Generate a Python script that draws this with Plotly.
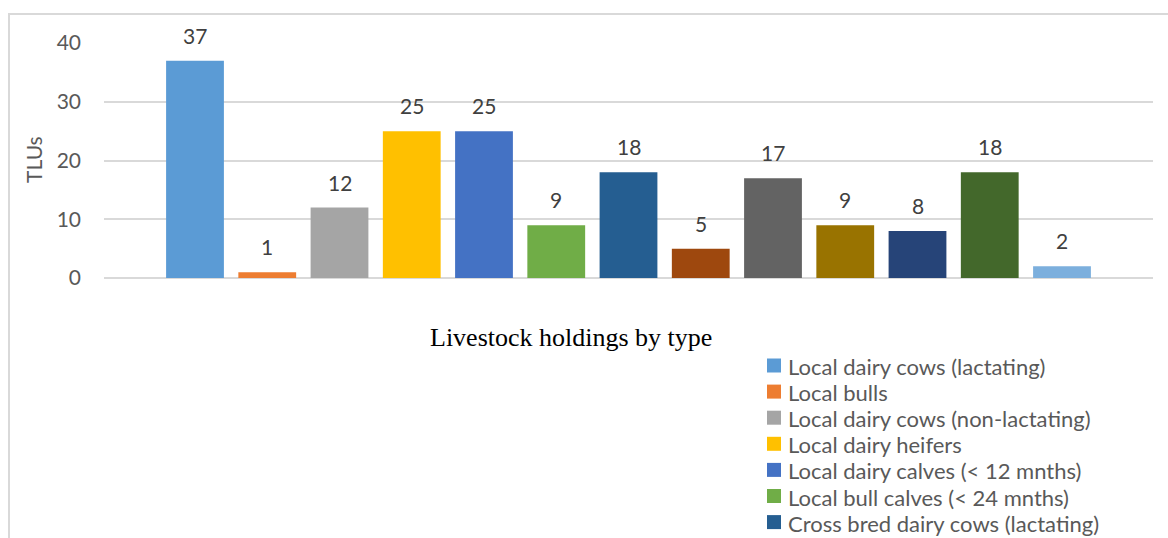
import plotly.graph_objects as go

series_names = [
    "Local dairy cows (lactating)",
    "Local bulls",
    "Local dairy cows (non-lactating)",
    "Local dairy heifers",
    "Local dairy calves (< 12 mnths)",
    "Local bull calves (< 24 mnths)",
    "Cross bred dairy cows (lactating)",
    "Cross bred bulls",
    "Cross bred dairy cows (non-lactating)",
    "Cross bred dairy heifers",
    "Cross bred dairy calves (< 12 mnths)",
    "Cross bred bull calves (< 24 mnths)",
    "Oxen",
]
values = [37, 1, 12, 25, 25, 9, 18, 5, 17, 9, 8, 18, 2]
colors = ["#5B9BD5", "#ED7D31", "#A5A5A5", "#FFC000", "#4472C4", "#70AD47",
          "#255E91", "#9E480E", "#636363", "#997300", "#264478", "#43682B", "#7CAFDD"]
y_ticks = [0, 10, 20, 30, 40]
x_title = "Livestock holdings by type"
y_title = "TLUs"
legend_visible = 7  # entries visible before the legend is cut off by the chart edge

W, H = 1168, 538
L, R, T, B = 104, 15, 43, 260
pw, ph = W - L - R, H - T - B


def px_x(px):
    return (px - L) / pw


def px_y(py):
    return (H - B - py) / ph


FONT = "Lato, 'Open Sans', sans-serif"

fig = go.Figure()
for i, (name, v, c) in enumerate(zip(series_names, values, colors)):
    fig.add_trace(go.Bar(
        x=[name], y=[v], name=name, marker=dict(color=c, line=dict(width=0)),
        showlegend=False,
    ))
    fig.add_annotation(
        x=name, y=v, xref="x", yref="y", text=str(v), showarrow=False,
        yanchor="bottom", yshift=11, font=dict(family=FONT, size=21, color="#404040"),
    )

n = len(series_names)
unit = 72.25
span = pw / unit
pad = (span - n) / 2

shapes = [
    dict(type="line", xref="paper", yref="paper",
         x0=px_x(8), x1=px_x(W + 10), y0=px_y(14), y1=px_y(14),
         line=dict(color="#D9D9D9", width=2)),
    dict(type="line", xref="paper", yref="paper",
         x0=px_x(9), x1=px_x(9), y0=px_y(14), y1=px_y(H + 10),
         line=dict(color="#D9D9D9", width=2)),
]

# legend (drawn manually so the row spacing matches the reference)
row0, row_gap = 365.5, 26.1
for i in range(legend_visible):
    cy = row0 + i * row_gap
    shapes.append(dict(
        type="rect", xref="paper", yref="paper",
        x0=px_x(767), x1=px_x(781), y0=px_y(cy + 7), y1=px_y(cy - 7),
        fillcolor=colors[i], line=dict(width=0),
    ))
    fig.add_annotation(
        xref="paper", yref="paper", x=px_x(786), y=px_y(cy), yshift=-1,
        text=series_names[i], showarrow=False, xanchor="left", yanchor="middle",
        font=dict(family=FONT, size=22, color="#595959"),
    )

fig.update_layout(
    width=W, height=H,
    margin=dict(l=L, r=R, t=T, b=B, autoexpand=False),
    paper_bgcolor="white", plot_bgcolor="white",
    barmode="overlay", bargap=0.2,
    font=dict(family=FONT, color="#595959"),
    showlegend=False,
    xaxis=dict(
        categoryorder="array", categoryarray=series_names,
        range=[-0.5 - pad, n - 0.5 + pad],
        showticklabels=False, showgrid=False, zeroline=False, showline=False, ticks="",
    ),
    yaxis=dict(
        range=[0, 40], tickvals=y_ticks, showgrid=True, gridcolor="#D9D9D9", gridwidth=2,
        zeroline=True, zerolinecolor="#D9D9D9", zerolinewidth=2, showline=False,
        ticks="", ticklabelstandoff=22,
        tickfont=dict(family=FONT, size=21, color="#595959"),
    ),
    shapes=shapes,
)

fig.add_annotation(
    xref="paper", yref="paper", x=px_x(33), y=px_y(160),
    text=y_title, textangle=-90, showarrow=False, xanchor="center", yanchor="middle",
    font=dict(family=FONT, size=21, color="#595959"),
)
fig.add_annotation(
    xref="paper", yref="paper", x=px_x(571), y=px_y(337),
    text=x_title, showarrow=False, xanchor="center", yanchor="middle",
    font=dict(family="'Liberation Serif', 'Times New Roman', serif", size=26, color="#000000"),
)

fig.write_html("out.html")
